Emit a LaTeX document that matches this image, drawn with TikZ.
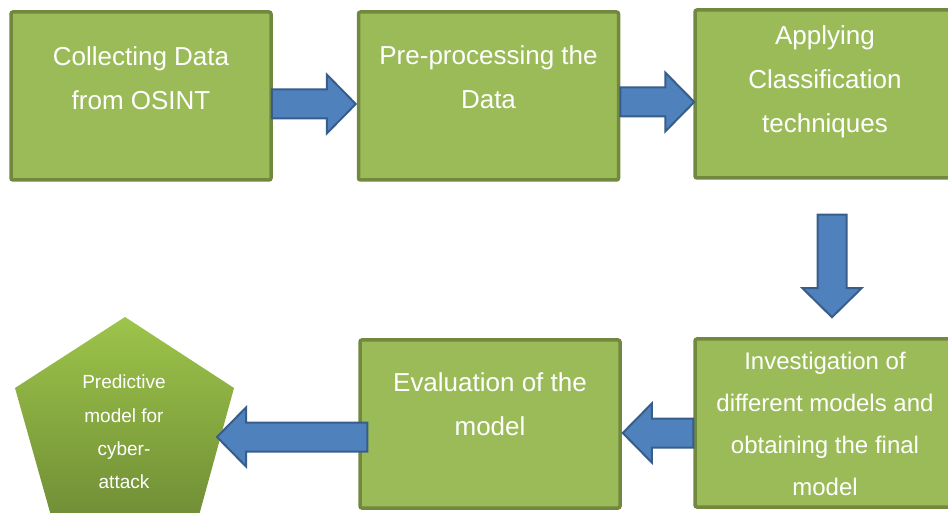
\documentclass[tikz,border=0pt]{standalone}
\usepackage{fontspec}
\setmainfont{Liberation Sans}
\usetikzlibrary{calc}

\definecolor{boxfill}{HTML}{9BBB59}
\definecolor{boxline}{HTML}{71893F}
\definecolor{arrfill}{HTML}{4F81BD}
\definecolor{arrline}{HTML}{385D8A}
\definecolor{pentop}{HTML}{9DC44A}
\definecolor{penbot}{HTML}{6E8B35}

% Block arrow from coordinate #1 to coordinate #2 (tip at #2)
\newcommand{\blockarrow}[2]{%
  \coordinate (ba-h) at ($(#2)!14.5pt!(#1)$);
  \draw[flowarrow]
    ($(#1)!7.25pt!90:(#2)$) -- ($(ba-h)!7.25pt!90:(#2)$)
    -- ($(ba-h)!14.75pt!90:(#2)$) -- (#2)
    -- ($(ba-h)!14.75pt!-90:(#2)$) -- ($(ba-h)!7.25pt!-90:(#2)$)
    -- ($(#1)!7.25pt!-90:(#2)$) -- cycle;}

\tikzset{
  stepbox/.style={draw=boxline, fill=boxfill, line width=1.75pt,
    minimum width=130pt, minimum height=84pt, inner sep=0pt,
    rounded corners=1pt},
  boxtext/.style={text=white, align=center, inner sep=0pt,
    font=\fontsize{13}{22}\selectfont},
  smalltext/.style={boxtext, font=\fontsize{12}{21}\selectfont},
  pentext/.style={boxtext, font=\fontsize{9.5}{16.6}\selectfont},
  flowarrow/.style={draw=arrline, fill=arrfill, line width=1pt,
    line join=miter},
}

\begin{document}
\begin{tikzpicture}[x=0.5pt, y=-0.5pt]
\useasboundingbox (0,0) rectangle (948,513);
\clip (0,0) rectangle (948,513);

% process boxes
\node[stepbox] (b1) at (141,96)   {};
\node[stepbox] (b2) at (488.5,96) {};
\node[stepbox] (b3) at (825,94)   {};
\node[stepbox] (b4) at (825,423)  {};
\node[stepbox] (b5) at (490,424)  {};

% final result: pentagon
\shade[top color=pentop, bottom color=penbot]
  (125,317) -- (234,388) -- (195,530) -- (55,530) -- (15,388) -- cycle;

% box texts
\node[boxtext] (t1) at ($(b1.center)+(0,-17.5)$)
  {\strut Collecting Data\\\strut from OSINT};
\node[boxtext] (t2) at ($(b2.center)+(0,-18.5)$)
  {\strut Pre-processing the\\\strut Data};
\node[boxtext] (t3) at ($(b3.center)+(0,-14)$)
  {\strut Applying\\\strut Classification\\\strut techniques};
\node[smalltext] (t4) at ($(b4.center)+(0,1.5)$)
  {\strut Investigation of\\\strut different models and\\\strut obtaining the final\\\strut model};
\node[boxtext] (t5) at ($(b5.center)+(0,-19.5)$)
  {\strut Evaluation of the\\\strut model};
\node[pentext] (pred) at (124,432)
  {\strut Predictive\\\strut model for\\\strut cyber-\\\strut attack};

% arrow end points
\coordinate (a1s) at ($(b1.east)+(-1,8)$);
\coordinate (a1e) at ($(b2.west)+(-1,8)$);
\coordinate (a2s) at ($(b2.east)+(0,6)$);
\coordinate (a2e) at ($(b3.west)+(1,8)$);
\coordinate (a3s) at ($(b3.south)+(7,35)$);
\coordinate (a3e) at ($(b4.north)+(7,-20)$);
\coordinate (a4s) at ($(b4.west)+(0,10)$);
\coordinate (a4e) at ($(b5.east)+(1,9)$);
\coordinate (a5s) at ($(b5.west)+(9,13)$);
\coordinate (predtip) at ($(pred.center)+(93,5)$);

% flow arrows
\blockarrow{a1s}{a1e}
\blockarrow{a2s}{a2e}
\blockarrow{a3s}{a3e}
\blockarrow{a4s}{a4e}
\blockarrow{a5s}{predtip}
\end{tikzpicture}
\end{document}
